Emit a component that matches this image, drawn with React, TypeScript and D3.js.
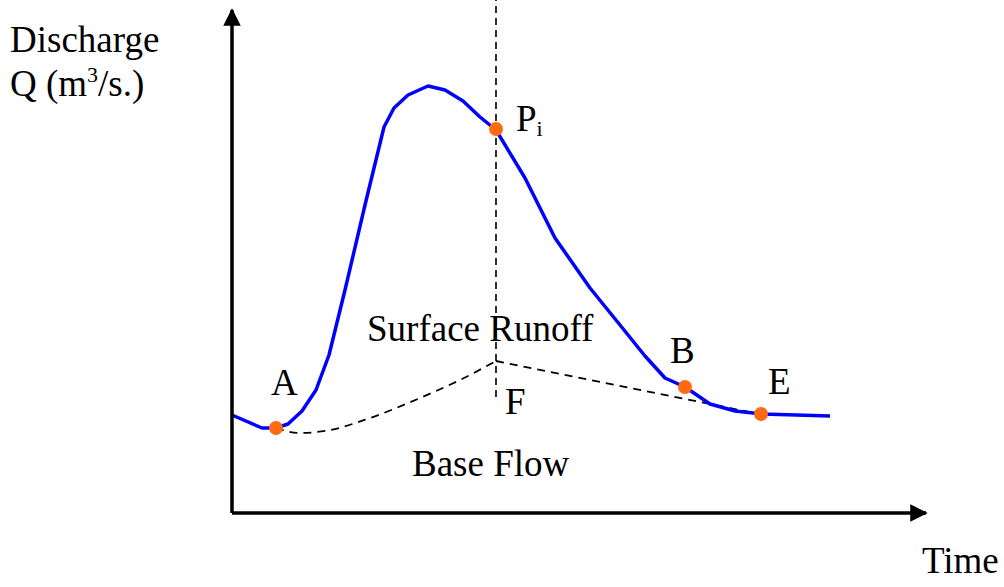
import React from "react";
import * as d3 from "d3";

// Hydrograph: time (arbitrary units) vs discharge (arbitrary units)
const hydroTime = [0, 3.0, 4.4, 5.6, 7.0, 8.4, 9.7, 11.3, 13.3, 15.2, 16.2, 17.6, 19.6, 21.3, 23.1, 24.8, 26.4, 29.3, 32.3, 35.8, 38.8, 41.3, 43.3, 45.3, 47.8, 50.3, 53.0, 59.8];
const hydroQ = [9.8, 8.5, 8.5, 8.9, 10.2, 12.3, 15.8, 22.3, 30.8, 38.6, 40.5, 41.8, 42.7, 42.3, 41.2, 39.6, 38.3, 33.5, 27.5, 22.5, 18.8, 15.7, 13.5, 12.6, 10.9, 10.2, 9.9, 9.7];

// Base flow separation line (A -> F curve, F -> E straight)
const baseTime = [4.4, 6.8, 9.8, 13.8, 18.8, 22.8, 26.4];
const baseQ = [8.5, 8.0, 8.3, 9.5, 11.5, 13.3, 15.2];
const recessTime = [26.4, 52.5];
const recessQ = [15.2, 9.95];

// Vertical line through peak point Pi
const vertTime = 26.4;
const vertQ = [11.6, 51.3];

// Marked points
const pointNames = ["A", "Pi", "B", "E"];
const pointTime = [4.4, 26.4, 45.3, 52.9];
const pointQ = [8.5, 38.4, 12.6, 9.9];

const W = 1004;
const H = 587;

export default function App() {
  const x = d3.scaleLinear().domain([0, 70]).range([232, 932]);
  const y = d3.scaleLinear().domain([0, 50]).range([513, 13]);

  const hydro = d3
    .line<number>()
    .x((_, i) => x(hydroTime[i]))
    .y((_, i) => y(hydroQ[i]))
    .curve(d3.curveLinear)(hydroTime);

  const base = d3
    .line<number>()
    .x((_, i) => x(baseTime[i]))
    .y((_, i) => y(baseQ[i]))
    .curve(d3.curveMonotoneX)(baseTime);

  const recess = d3
    .line<number>()
    .x((_, i) => x(recessTime[i]))
    .y((_, i) => y(recessQ[i]))(recessTime);

  const font = "'Liberation Serif', 'Times New Roman', serif";
  const fs = 37;

  return (
    <svg
      width={W}
      height={H}
      style={{ position: "absolute", left: 0, top: 0, background: "#fff" }}
      fontFamily={font}
    >
      <defs>
        <marker id="arr" viewBox="0 0 10 10" refX="9" refY="5" markerWidth="5" markerHeight="5" orient="auto" markerUnits="strokeWidth">
          <path d="M0,0 L10,5 L0,10 z" fill="#000" />
        </marker>
      </defs>

      {/* vertical dashed line */}
      <line
        x1={x(vertTime)}
        x2={x(vertTime)}
        y1={y(vertQ[0])}
        y2={y(vertQ[1])}
        stroke="#000"
        strokeWidth={1.6}
        strokeDasharray="7,5"
      />

      {/* base flow separation */}
      <path d={base || ""} fill="none" stroke="#000" strokeWidth={1.8} strokeDasharray="8,6" />
      <path d={recess || ""} fill="none" stroke="#000" strokeWidth={1.8} strokeDasharray="8,6" />

      {/* hydrograph */}
      <path d={hydro || ""} fill="none" stroke="#0000ff" strokeWidth={3.5} strokeLinejoin="round" />

      {/* axes */}
      <line x1={x(0)} y1={y(0)} x2={x(0)} y2={10} stroke="#000" strokeWidth={3.5} markerEnd="url(#arr)" />
      <line x1={x(0)} y1={y(0)} x2={926} y2={y(0)} stroke="#000" strokeWidth={3.5} markerEnd="url(#arr)" />

      {/* points */}
      {pointNames.map((n, i) => (
        <circle key={n} cx={x(pointTime[i])} cy={y(pointQ[i])} r={7} fill="#ff6a13" />
      ))}

      {/* labels */}
      <text x={10} y={52} fontSize={fs}>Discharge</text>
      <text x={10} y={96} fontSize={fs}>
        Q (m<tspan dy={-14} fontSize={22}>3</tspan>
        <tspan dy={14}>/s.)</tspan>
      </text>
      <text x={516} y={131} fontSize={fs}>
        P<tspan dy={5} fontSize={22}>i</tspan>
      </text>
      <text x={271} y={395} fontSize={fs}>A</text>
      <text x={505} y={414} fontSize={fs}>F</text>
      <text x={367} y={341} fontSize={fs}>Surface Runoff</text>
      <text x={412} y={476} fontSize={fs}>Base Flow</text>
      <text x={670} y={363} fontSize={fs}>B</text>
      <text x={768} y={394} fontSize={fs}>E</text>
      <text x={922} y={573} fontSize={fs}>Time</text>
    </svg>
  );
}
